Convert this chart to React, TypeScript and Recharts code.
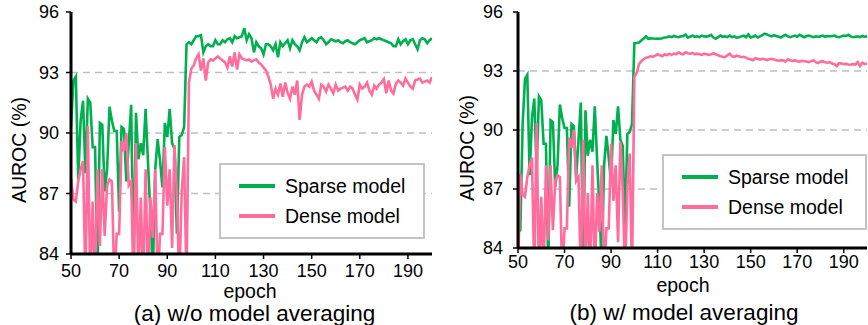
import React from 'react';
import { LineChart, Line, XAxis, YAxis, CartesianGrid } from 'recharts';

const EPOCH_START = 50;
const X_TICKS = [50, 70, 90, 110, 130, 150, 170, 190];
const Y_TICKS = [84, 87, 90, 93, 96];
const GRID_VALUES = [87, 90, 93];
const SERIES_NAMES = ['Sparse model', 'Dense model'];
const Y_LABEL = 'AUROC (%)';
const X_LABEL = 'epoch';
const CAPTIONS = ['(a) w/o model averaging', '(b) w/ model averaging'];

// (a) w/o model averaging, epochs 50..200
const sparseNoAvg = [
  90.3, 92.6, 92.8, 87.7, 90.6, 91.6, 88.0, 91.7, 91.5, 89.3,
  89.3, 83.0, 90.5, 90.4, 87.1, 88.2, 91.3, 90.6, 90.1, 90.1,
  86.1, 90.3, 90.2, 87.6, 89.5, 91.4, 83.0, 91.0, 88.7, 89.5,
  88.9, 91.2, 88.5, 86.0, 83.0, 88.2, 89.7, 88.6, 87.3, 90.5,
  89.8, 91.2, 89.5, 89.2, 85.0, 89.8, 89.9, 90.3, 94.4, 94.5,
  94.4, 94.6, 94.8, 94.8, 94.85, 94.0, 94.3, 94.4, 94.3, 94.3,
  94.6, 94.4, 94.4, 94.6, 94.5, 94.65, 94.7, 94.5, 94.8, 94.7,
  94.75, 94.8, 95.2, 94.6, 94.9, 94.7, 94.0, 94.5, 94.3, 94.2,
  93.9, 94.4, 94.4, 94.3, 94.1, 94.4, 93.76, 94.5, 94.3, 94.45,
  94.6, 94.2, 94.6, 94.4, 94.3, 94.1, 94.5, 94.75, 94.5, 94.6,
  94.7, 94.6, 94.5, 94.7, 94.75, 94.6, 94.4, 94.5, 94.65, 94.6,
  94.55, 94.6, 94.5, 94.45, 94.55, 94.6, 94.5, 94.45, 94.4, 94.5,
  94.6, 94.65, 94.7, 94.5, 94.55, 94.6, 94.7, 94.65, 94.7, 94.65,
  94.6, 94.55, 94.5, 94.45, 94.3, 94.3, 94.65, 94.4, 94.55, 94.65,
  94.4, 94.6, 94.65, 94.4, 94.15, 94.6, 94.7, 94.65, 94.45, 94.6,
  94.7,
];

const denseNoAvg = [
  87.75, 86.7, 86.6, 87.6, 88.2, 88.6, 82.5, 90.35, 82.5, 86.6,
  82.5, 88.2, 84.4, 88.2, 84.9, 87.4, 87.7, 87.6, 82.5, 85.0,
  85.0, 89.6, 89.1, 90.0, 87.4, 87.6, 82.5, 89.5, 82.5, 86.8,
  82.5, 88.2, 82.5, 86.8, 84.8, 88.2, 82.5, 85.0, 85.0, 89.3,
  86.4, 88.2, 84.3, 89.4, 87.0, 82.5, 87.1, 88.8, 82.5, 92.5,
  93.2, 93.35, 93.7, 93.9, 93.1, 93.7, 92.6, 93.5, 93.65, 93.6,
  93.7, 93.8, 93.7, 93.6, 93.5, 93.25, 93.8, 93.3, 94.0, 93.15,
  93.9, 93.7, 93.65, 93.6, 93.65, 93.55, 93.6, 93.65, 93.5, 93.4,
  93.25, 93.1, 92.8, 92.4, 91.7, 92.2, 91.9, 92.45, 91.8, 92.5,
  92.0, 91.7, 92.3, 91.9, 92.6, 90.65, 91.9, 92.3, 92.4, 92.3,
  92.55, 92.1, 91.9, 91.7, 92.4, 92.3, 92.05, 92.4, 92.2, 91.97,
  92.4, 92.1, 92.2, 92.25, 92.3, 92.1, 92.3, 92.2, 91.9, 91.65,
  92.4, 92.2, 92.3, 92.5, 92.1, 91.9, 92.35, 92.2, 92.4, 92.5,
  92.67, 91.97, 92.6, 92.1, 91.95, 92.45, 92.6, 92.5, 92.35, 92.7,
  92.5, 92.3, 92.2, 92.6, 92.65, 92.7, 92.5, 92.55, 92.6, 92.5,
  92.77,
];

// (b) w/ model averaging, epochs 50..200
const sparseAvg = [
  84.8, 84.9, 90.3, 92.6, 92.8, 87.7, 90.6, 91.6, 88.0, 91.7,
  91.5, 89.3, 89.3, 83.0, 90.5, 90.4, 87.1, 88.2, 91.3, 90.6,
  90.1, 90.1, 86.1, 90.3, 90.2, 87.6, 89.5, 91.4, 83.0, 91.0,
  88.7, 89.5, 88.9, 91.2, 88.5, 86.0, 83.0, 88.2, 89.7, 88.6,
  87.3, 90.5, 89.8, 91.2, 89.5, 89.2, 85.0, 89.8, 89.9, 90.3,
  94.4, 94.42, 94.45, 94.55, 94.65, 94.76, 94.64, 94.66, 94.65, 94.64,
  94.65, 94.64, 94.66, 94.7, 94.72, 94.76, 94.72, 94.78, 94.74, 94.72,
  94.76, 94.78, 94.86, 94.7, 94.74, 94.8, 94.74, 94.76, 94.72, 94.8,
  94.76, 94.75, 94.78, 94.84, 94.7, 94.64, 94.72, 94.8, 94.74, 94.76,
  94.72, 94.8, 94.72, 94.76, 94.7, 94.72, 94.76, 94.8, 94.72, 94.86,
  94.7, 94.74, 94.8, 94.7, 94.76, 94.82, 94.9, 94.86, 94.8, 94.76,
  94.82, 94.78, 94.74, 94.7, 94.78, 94.84, 94.76, 94.72, 94.76, 94.8,
  94.74, 94.84, 94.78, 94.72, 94.78, 94.8, 94.76, 94.72, 94.76, 94.74,
  94.76, 94.8, 94.74, 94.78, 94.76, 94.78, 94.8, 94.74, 94.72, 94.76,
  94.8, 94.78, 94.84, 94.76, 94.72, 94.74, 94.76, 94.72, 94.78, 94.74,
  94.76,
];

const denseAvg = [
  82.5, 87.75, 86.7, 86.6, 87.6, 88.2, 88.6, 82.5, 90.35, 82.5,
  86.6, 82.5, 88.2, 84.4, 88.2, 84.9, 87.4, 87.7, 87.6, 82.5,
  85.0, 85.0, 89.6, 89.1, 90.0, 87.4, 87.6, 82.5, 89.5, 82.5,
  86.8, 82.5, 88.2, 82.5, 86.8, 84.8, 88.2, 82.5, 85.0, 85.0,
  89.3, 86.4, 88.2, 84.3, 89.4, 87.0, 82.5, 87.1, 88.8, 82.5,
  92.7, 92.9, 93.35, 93.5, 93.6, 93.68, 93.7, 93.75, 93.72, 93.78,
  93.85, 93.8, 93.75, 93.85, 93.8, 93.88, 93.82, 93.88, 93.85, 93.95,
  93.88, 93.85, 93.95, 93.9, 93.88, 93.92, 93.85, 93.88, 93.85, 93.82,
  93.88, 93.85, 93.82, 93.85, 93.9, 93.85, 93.8, 93.75, 93.72, 93.7,
  93.8, 93.88, 93.75, 93.72, 93.78, 93.75, 93.7, 93.72, 93.68, 93.62,
  93.6, 93.55, 93.65, 93.62, 93.58, 93.62, 93.6, 93.55, 93.6, 93.62,
  93.58, 93.55, 93.52, 93.55, 93.54, 93.48, 93.6, 93.55, 93.5, 93.55,
  93.5, 93.48, 93.52, 93.5, 93.48, 93.45, 93.5, 93.55, 93.45, 93.4,
  93.48, 93.5, 93.45, 93.42, 93.45, 93.38, 93.35, 93.25, 93.4, 93.38,
  93.35, 93.36, 93.33, 93.32, 93.35, 93.33, 93.45, 93.25, 93.42, 93.35,
  93.38,
];

const GREEN = '#00b050';
const PINK = '#ff6c9d';
const FONT = "'Liberation Sans', Arial, Helvetica, sans-serif";

function buildRows(sparse: number[], dense: number[]) {
  return sparse.map((s, i) => ({ epoch: EPOCH_START + i, sparse: s, dense: dense[i] }));
}

type PanelProps = {
  left: number;
  width: number;
  sparse: number[];
  dense: number[];
  yAxisWidth: number;
  marginTop: number;
  marginRight: number;
  marginBottom: number;
  xTickMargin: number;
  yTickMargin: number;
};

function Panel(p: PanelProps) {
  const rows = buildRows(p.sparse, p.dense);
  const tickStyle = { fill: '#000', fontSize: 18, fontFamily: FONT };
  return (
    <div style={{ position: 'absolute', left: p.left, top: 0 }}>
      <LineChart
        width={p.width}
        height={325}
        data={rows}
        margin={{ top: p.marginTop, right: p.marginRight, bottom: p.marginBottom, left: 0 }}
      >
        <CartesianGrid
          vertical={false}
          horizontalValues={GRID_VALUES}
          stroke="#c0c0c0"
          strokeWidth={1.3}
          strokeDasharray="7 5"
        />
        <XAxis
          dataKey="epoch"
          type="number"
          domain={[50, 200]}
          ticks={X_TICKS}
          interval={0}
          allowDataOverflow
          height={30}
          tickSize={5}
          tickMargin={p.xTickMargin}
          tick={tickStyle}
          tickLine={{ stroke: '#000', strokeWidth: 1.5 }}
          axisLine={{ stroke: '#000', strokeWidth: 3 }}
        />
        <XAxis
          xAxisId="top"
          dataKey="epoch"
          type="number"
          orientation="top"
          domain={[50, 200]}
          height={0}
          tick={false}
          tickLine={false}
          axisLine={{ stroke: '#000', strokeWidth: 3 }}
        />
        <YAxis
          type="number"
          domain={[84, 96]}
          ticks={Y_TICKS}
          interval={0}
          allowDataOverflow
          width={p.yAxisWidth}
          tickSize={5}
          tickMargin={p.yTickMargin}
          tick={tickStyle}
          tickLine={{ stroke: '#000', strokeWidth: 1.5 }}
          axisLine={{ stroke: '#000', strokeWidth: 3 }}
        />
        <YAxis
          yAxisId="right"
          orientation="right"
          type="number"
          domain={[84, 96]}
          width={0}
          tick={false}
          tickLine={false}
          axisLine={{ stroke: '#000', strokeWidth: 3 }}
        />
        <Line
          dataKey="sparse"
          name={SERIES_NAMES[0]}
          stroke={GREEN}
          strokeWidth={2.6}
          dot={false}
          isAnimationActive={false}
        />
        <Line
          dataKey="dense"
          name={SERIES_NAMES[1]}
          stroke={PINK}
          strokeWidth={2.6}
          dot={false}
          isAnimationActive={false}
        />
      </LineChart>
    </div>
  );
}

function LegendBox({ left, top, width, height }: { left: number; top: number; width: number; height: number }) {
  const row = (color: string, label: string, y: number) => (
    <div style={{ position: 'absolute', left: 0, top: y, width: '100%', height: 0 }}>
      <div style={{ position: 'absolute', left: 18, top: -1.75, width: 36, height: 3.5, background: color }} />
      <div
        style={{
          position: 'absolute',
          left: 64,
          top: -12,
          lineHeight: '24px',
          fontSize: 19.5,
          fontFamily: FONT,
          color: '#000',
          whiteSpace: 'nowrap',
        }}
      >
        {label}
      </div>
    </div>
  );
  return (
    <div
      style={{
        position: 'absolute',
        left,
        top,
        width,
        height,
        boxSizing: 'border-box',
        border: '2.5px solid #c4c4c4',
        background: '#fff',
      }}
    >
      {row(GREEN, SERIES_NAMES[0], 21)}
      {row(PINK, SERIES_NAMES[1], 51)}
    </div>
  );
}

function CenterText({ x, y, text, size, rotate }: { x: number; y: number; text: string; size: number; rotate?: boolean }) {
  return (
    <div
      style={{
        position: 'absolute',
        left: x,
        top: y,
        transform: `translate(-50%, -50%)${rotate ? ' rotate(-90deg)' : ''}`,
        fontSize: size,
        fontFamily: FONT,
        lineHeight: 1,
        whiteSpace: 'nowrap',
        color: '#000',
      }}
    >
      {text}
    </div>
  );
}

export default function App() {
  return (
    <div style={{ position: 'absolute', left: 0, top: 0, width: 868, height: 325, background: '#fff', overflow: 'hidden' }}>
      <Panel
        left={0}
        width={440}
        sparse={sparseNoAvg}
        dense={denseNoAvg}
        yAxisWidth={71}
        marginTop={12}
        marginRight={8}
        marginBottom={41}
        xTickMargin={5}
        yTickMargin={7}
      />
      <Panel
        left={440}
        width={428}
        sparse={sparseAvg}
        dense={denseAvg}
        yAxisWidth={78}
        marginTop={12}
        marginRight={1}
        marginBottom={47}
        xTickMargin={2}
        yTickMargin={10}
      />
      <LegendBox left={219} top={163} width={206} height={76} />
      <LegendBox left={662} top={154} width={205} height={76} />
      <CenterText x={20} y={149.5} text={Y_LABEL} size={19.5} rotate />
      <CenterText x={468} y={147.5} text={Y_LABEL} size={19.5} rotate />
      <CenterText x={250} y={291.5} text={X_LABEL} size={19.5} />
      <CenterText x={683} y={285.5} text={X_LABEL} size={19.5} />
      <CenterText x={254.5} y={314} text={CAPTIONS[0]} size={22.5} />
      <CenterText x={684} y={313} text={CAPTIONS[1]} size={22.5} />
    </div>
  );
}
